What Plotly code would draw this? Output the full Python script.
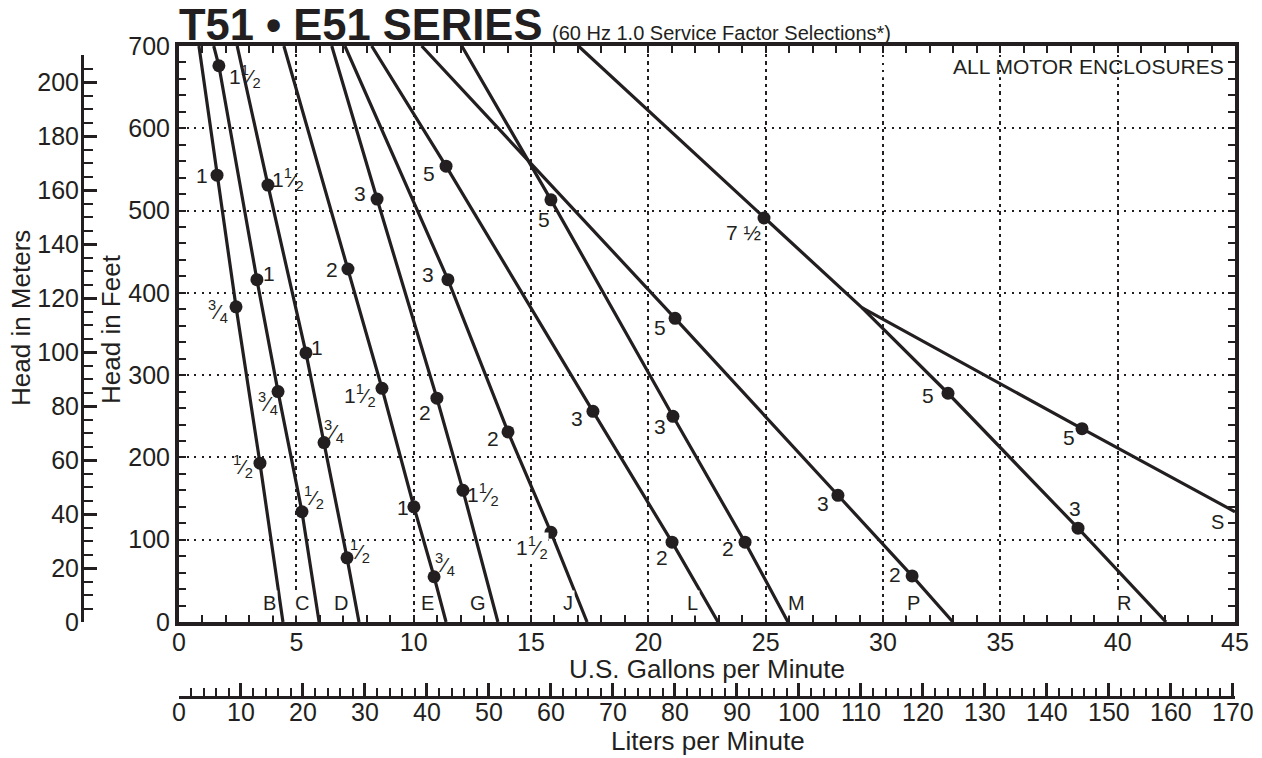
import plotly.graph_objects as go

# ---------------- data ----------------
# each curve: flow (US GPM), head (ft), motor HP at marked points ("" = no dot)
B_gpm = [0.85, 1.62, 2.43, 3.45, 4.43]
B_ft = [700, 543, 383, 193, 0]
B_hp = ["", "1", "3/4", "1/2", ""]

C_gpm = [1.48, 1.70, 3.32, 4.22, 5.24, 5.97]
C_ft = [700, 676, 416, 280, 134, 0]
C_hp = ["", "1 1/2", "1", "3/4", "1/2", ""]

D_gpm = [2.48, 3.79, 5.41, 6.18, 7.16, 7.67]
D_ft = [700, 531, 327, 218, 78, 0]
D_hp = ["", "1 1/2", "1", "3/4", "1/2", ""]

E_gpm = [4.47, 7.20, 8.65, 10.01, 10.87, 11.38]
E_ft = [700, 429, 284, 140, 55, 0]
E_hp = ["", "2", "1 1/2", "1", "3/4", ""]

G_gpm = [6.51, 8.44, 10.99, 12.10, 13.59]
G_ft = [700, 514, 272, 160, 0]
G_hp = ["", "3", "2", "1 1/2", ""]

J_gpm = [7.07, 11.46, 14.02, 15.85, 17.39]
J_ft = [700, 416, 231, 109, 0]
J_hp = ["", "3", "2", "1 1/2", ""]

L_gpm = [8.21, 11.38, 17.64, 21.01, 22.97]
L_ft = [700, 554, 256, 97, 0]
L_hp = ["", "5", "3", "2", ""]

M_gpm = [12.05, 15.85, 21.05, 24.12, 25.95]
M_ft = [700, 513, 250, 97, 0]
M_hp = ["", "5", "3", "2", ""]

P_gpm = [10.34, 21.14, 28.08, 31.24, 32.98]
P_ft = [700, 369, 154, 56, 0]
P_hp = ["", "5", "3", "2", ""]

R_gpm = [17.02, 24.93, 29.10, 32.77, 38.31, 42.06]
R_ft = [700, 491, 382, 278, 114, 0]
R_hp = ["", "7 1/2", "", "5", "3", ""]

S_gpm = [29.10, 38.48, 45.0]
S_ft = [382, 235, 134]
S_hp = ["", "5", ""]

curve_names = ["B", "C", "D", "E", "G", "J", "L", "M", "P", "R", "S"]
curve_gpm = [B_gpm, C_gpm, D_gpm, E_gpm, G_gpm, J_gpm, L_gpm, M_gpm, P_gpm, R_gpm, S_gpm]
curve_ft = [B_ft, C_ft, D_ft, E_ft, G_ft, J_ft, L_ft, M_ft, P_ft, R_ft, S_ft]
curve_hp = [B_hp, C_hp, D_hp, E_hp, G_hp, J_hp, L_hp, M_hp, P_hp, R_hp, S_hp]

x_ticks_gpm = [0, 5, 10, 15, 20, 25, 30, 35, 40, 45]
y_ticks_ft = [0, 100, 200, 300, 400, 500, 600, 700]

GPM_MAX = 45
FT_MAX = 700
M_MAX = 210
LPM_PER_GPM = 3.785411784
M_PER_FT = 0.3048

# ---------------- styling / layout ----------------
INK = "#231f20"
FONT = "Liberation Sans, Arial, Helvetica, sans-serif"
PAGE_OFF = 8                                     # page body margin
W, H = 1262 - PAGE_OFF, 758 - PAGE_OFF
L_PX, R_PX, T_PX, B_PX = 82, 1235, 46, 697      # outer plot area (reference px)
X0_PX, Y0_PX = 179, 622                          # main frame origin (reference px)


def px_x(p):
    return (p - L_PX) / (R_PX - L_PX)


def px_y(q):
    return (B_PX - q) / (B_PX - T_PX)


# label placement (pixel offsets of each HP label from its dot), styling only
LABEL_OFF = {
    "B": [(-15, 0), (-18, 5), (-17, 3)],
    "C": [(26, 11), (12, -6), (-10, 12), (12, -14)],
    "D": [(20, -6), (11, -5), (10, -11), (13, -6)],
    "E": [(-16, 1), (-22, 7), (-11, 1), (11, -12)],
    "G": [(-17, -6), (-12, 14), (20, 4)],
    "J": [(-20, -5), (-15, 7), (-19, 15)],
    "L": [(-17, 7), (-16, 7), (-10, 15)],
    "M": [(-7, 20), (-13, 10), (-17, 6)],
    "P": [(-15, 9), (-15, 8), (-17, -1)],
    "R": [(-21, 15), (-20, 2), (-3, -20)],
    "S": [(-13, 9)],
}
WHITE_BG_LABELS = {("J", 2)}
LETTER_PX = {
    "B": (269, 603), "C": (302, 603), "D": (341, 603), "E": (427, 603),
    "G": (478, 603), "J": (568, 603), "L": (692, 603), "M": (796, 603),
    "P": (913, 603), "R": (1124, 603), "S": (1217, 522),
}

HP_TEXT = {
    "1/2": "<sup>1</sup>\u2044<sub>2</sub>",
    "3/4": "<sup>3</sup>\u2044<sub>4</sub>",
    "1 1/2": "1<sup>1</sup>\u2044<sub>2</sub>",
    "7 1/2": "7 \u00bd",
}

fig = go.Figure()

for name, xs, ys, hps in zip(curve_names, curve_gpm, curve_ft, curve_hp):
    fig.add_trace(go.Scatter(x=xs, y=ys, mode="lines",
                             line=dict(color=INK, width=3.2),
                             hoverinfo="skip", showlegend=False))
    mx = [x for x, h in zip(xs, hps) if h]
    my = [y for y, h in zip(ys, hps) if h]
    fig.add_trace(go.Scatter(x=mx, y=my, mode="markers",
                             marker=dict(color=INK, size=13),
                             hoverinfo="skip", showlegend=False))

# the same R curve in metric units, invisible, to carry the metric scales
fig.add_trace(go.Scatter(x=[g * LPM_PER_GPM for g in R_gpm], y=R_ft,
                         xaxis="x2", yaxis="y", mode="lines", opacity=0,
                         hoverinfo="skip", showlegend=False))
fig.add_trace(go.Scatter(x=R_gpm, y=[f * M_PER_FT for f in R_ft],
                         xaxis="x", yaxis="y2", mode="lines", opacity=0,
                         hoverinfo="skip", showlegend=False))

annotations = []
# HP labels
for name, xs, ys, hps in zip(curve_names, curve_gpm, curve_ft, curve_hp):
    k = 0
    for x, y, h in zip(xs, ys, hps):
        if not h:
            continue
        dx, dy = LABEL_OFF[name][k]
        annotations.append(dict(
            x=x, y=y, xref="x", yref="y", text=HP_TEXT.get(h, h),
            showarrow=False, xshift=dx, yshift=-dy,
            font=dict(size=21, color=INK, family=FONT),
            bgcolor="white" if (name, k) in WHITE_BG_LABELS else None,
            borderpad=0))
        k += 1

# curve letters
for name in curve_names:
    px, py = LETTER_PX[name]
    annotations.append(dict(
        x=(px - X0_PX) / (R_PX - X0_PX) * GPM_MAX,
        y=(Y0_PX - py) / (Y0_PX - T_PX) * FT_MAX,
        xref="x", yref="y", text=name, showarrow=False,
        font=dict(size=20, color=INK, family=FONT),
        bgcolor="white", borderpad=1))

# titles and texts
annotations += [
    dict(x=px_x(177), y=px_y(25), xref="paper", yref="paper", xanchor="left",
         yanchor="middle", showarrow=False, text="<b>T51 \u2022 E51 SERIES</b>",
         font=dict(size=43.5, color=INK, family=FONT)),
    dict(x=px_x(550), y=px_y(33), xref="paper", yref="paper", xanchor="left",
         yanchor="middle", showarrow=False,
         text="(60 Hz 1.0 Service Factor Selections*)",
         font=dict(size=20, color=INK, family=FONT)),
    dict(x=px_x(1226), y=px_y(66), xref="paper", yref="paper", xanchor="right",
         yanchor="middle", showarrow=False, text="ALL MOTOR ENCLOSURES",
         font=dict(size=21, color=INK, family=FONT)),
    dict(x=px_x(21), y=px_y(318), xref="paper", yref="paper", xanchor="center",
         yanchor="middle", showarrow=False, text="Head in Meters", textangle=-90,
         font=dict(size=26, color=INK, family=FONT)),
    dict(x=px_x(111), y=px_y(329), xref="paper", yref="paper", xanchor="center",
         yanchor="middle", showarrow=False, text="Head in Feet", textangle=-90,
         font=dict(size=26, color=INK, family=FONT)),
    dict(x=px_x(707), y=px_y(669), xref="paper", yref="paper", xanchor="center",
         yanchor="middle", showarrow=False, text="U.S. Gallons per Minute",
         font=dict(size=26, color=INK, family=FONT)),
    dict(x=px_x(708), y=px_y(741), xref="paper", yref="paper", xanchor="center",
         yanchor="middle", showarrow=False, text="Liters per Minute",
         font=dict(size=26, color=INK, family=FONT)),
]

# white box that interrupts the grid under the enclosure note
shapes = [dict(type="rect", xref="x", yref="y", layer="between",
               x0=27.5, x1=GPM_MAX, y0=662, y1=FT_MAX,
               fillcolor="white", line=dict(width=0))]

grid = dict(showgrid=True, gridcolor=INK, gridwidth=2, griddash="2px,5.5px")
tickfont = dict(size=25, color=INK, family=FONT)

fig.update_layout(
    width=W, height=H,
    margin=dict(l=L_PX - PAGE_OFF, r=W - (R_PX - PAGE_OFF),
                t=T_PX - PAGE_OFF, b=H - (B_PX - PAGE_OFF), autoexpand=False),
    paper_bgcolor="white", plot_bgcolor="rgba(0,0,0,0)",
    showlegend=False, font=dict(family=FONT, color=INK),
    annotations=annotations, shapes=shapes,
    xaxis=dict(domain=[px_x(X0_PX), 1], range=[0, GPM_MAX], anchor="y",
               tickvals=x_ticks_gpm, showline=True, linewidth=4, linecolor=INK,
               mirror="ticks", ticks="inside", ticklen=7, tickwidth=2,
               tickcolor=INK, zeroline=False, tickfont=tickfont,
               ticklabelstandoff=-5,
               minor=dict(dtick=1, tick0=0, ticks="inside", ticklen=7,
                          tickwidth=2, tickcolor=INK, showgrid=False),
               fixedrange=True, **grid),
    yaxis=dict(domain=[px_y(Y0_PX), 1], range=[0, FT_MAX], anchor="x",
               tickvals=y_ticks_ft, showline=True, linewidth=4, linecolor=INK,
               mirror="ticks", ticks="inside", ticklen=7, tickwidth=2,
               tickcolor=INK, zeroline=False, tickfont=tickfont,
               minor=dict(dtick=20, tick0=0, ticks="inside", ticklen=7,
                          tickwidth=2, tickcolor=INK, showgrid=False),
               fixedrange=True, **grid),
    xaxis2=dict(overlaying="x", anchor="free", position=0, side="bottom",
                range=[0, GPM_MAX * LPM_PER_GPM], dtick=10, tick0=0,
                showline=True, linewidth=3, linecolor=INK, ticks="inside",
                ticklen=13, tickwidth=2.5, tickcolor=INK, showgrid=False,
                zeroline=False, tickfont=tickfont, ticklabelstandoff=-8,
                minor=dict(dtick=2, tick0=0, ticks="inside", ticklen=8,
                           tickwidth=2, tickcolor=INK, showgrid=False),
                fixedrange=True),
    yaxis2=dict(anchor="free", position=0, side="left",
                domain=[px_y(Y0_PX),
                        px_y(Y0_PX - M_MAX / M_PER_FT * (Y0_PX - T_PX) / FT_MAX)],
                range=[0, M_MAX], dtick=20, tick0=0,
                showline=True, linewidth=3, linecolor=INK, ticks="inside",
                ticklen=13, tickwidth=2.5, tickcolor=INK, showgrid=False,
                zeroline=False, tickfont=tickfont, ticklabelstandoff=-3,
                minor=dict(dtick=5, tick0=0, ticks="inside", ticklen=9,
                           tickwidth=2, tickcolor=INK, showgrid=False),
                fixedrange=True),
)

fig.write_html("out.html")
